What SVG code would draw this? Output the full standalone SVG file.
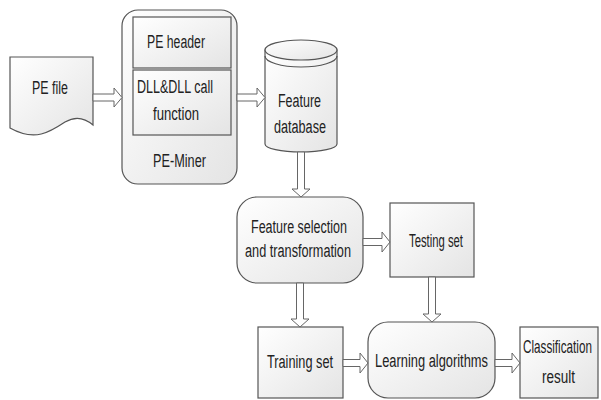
<svg xmlns="http://www.w3.org/2000/svg" width="601" height="400" viewBox="0 0 601 400">
<defs>
<linearGradient id="g" x1="0" y1="0" x2="1" y2="1">
<stop offset="0" stop-color="#ffffff"/>
<stop offset="1" stop-color="#e4e4e4"/>
</linearGradient>
<style>
.s{fill:url(#g);stroke:#555;stroke-width:1.2}
.a{fill:#fff;stroke:#666;stroke-width:1}
text{font-family:"Liberation Sans",Arial,sans-serif;font-size:18px;fill:#222}
</style>
</defs>
<rect width="601" height="400" fill="#fff"/>
<g id="pe-file">
<path class="s" d="M10,57 H93 V125 C85,118 75,116 65,122 C50,132 35,142 10,128 Z"/>
<text x="32" y="94" textLength="36" lengthAdjust="spacingAndGlyphs">PE file</text>
</g>
<g id="pe-miner">
<rect class="s" x="122" y="10" width="115" height="174" rx="16"/>
<rect class="s" x="133" y="17" width="98" height="51"/>
<rect class="s" x="133" y="70" width="98" height="65"/>
<text x="147" y="48" textLength="58" lengthAdjust="spacingAndGlyphs">PE header</text>
<text x="137" y="93" textLength="76" lengthAdjust="spacingAndGlyphs">DLL&amp;DLL call</text>
<text x="153" y="120" textLength="46" lengthAdjust="spacingAndGlyphs">function</text>
<text x="153" y="167" textLength="53" lengthAdjust="spacingAndGlyphs">PE-Miner</text>
</g>
<g id="feature-db">
<path class="s" d="M265,50 V144 A36,8 0 0 0 337,144 V50 Z"/>
<ellipse class="s" cx="301" cy="50" rx="36" ry="10"/>
<path fill="none" stroke="#555" stroke-width="1.2" d="M265,56 A36,11 0 0 0 337,56"/>
<text x="278" y="107" textLength="43" lengthAdjust="spacingAndGlyphs">Feature</text>
<text x="274" y="133" textLength="52" lengthAdjust="spacingAndGlyphs">database</text>
</g>
<g id="feature-selection">
<rect class="s" x="237" y="197" width="126" height="86" rx="20"/>
<text x="251" y="233" textLength="96" lengthAdjust="spacingAndGlyphs">Feature selection</text>
<text x="245" y="257" textLength="106" lengthAdjust="spacingAndGlyphs">and transformation</text>
</g>
<g id="testing-set">
<rect class="s" x="390" y="203" width="84" height="74"/>
<text x="409" y="247" textLength="54" lengthAdjust="spacingAndGlyphs">Testing set</text>
</g>
<g id="training-set">
<rect class="s" x="258" y="327" width="85" height="71"/>
<text x="267" y="368" textLength="66" lengthAdjust="spacingAndGlyphs">Training set</text>
</g>
<g id="learning">
<rect class="s" x="368" y="322" width="127" height="76" rx="20"/>
<text x="375" y="367" textLength="113" lengthAdjust="spacingAndGlyphs">Learning algorithms</text>
</g>
<g id="classification">
<rect class="s" x="520" y="327" width="78" height="71"/>
<text transform="translate(523,353) scale(0.65,1)" x="0" y="0">Classification</text>
<text x="542" y="383" textLength="33" lengthAdjust="spacingAndGlyphs">result</text>
</g>
<g id="connectors">
<polygon class="a" points="93,94 114,94 114,88 122,97.5 114,107 114,101 93,101"/>
<polygon class="a" points="237,94 257,94 257,88 265,97.5 257,107 257,101 237,101"/>
<polygon class="a" points="297.5,152 304.5,152 304.5,189 310,189 301,197 292,189 297.5,189"/>
<polygon class="a" points="363,238.5 382,238.5 382,232 390,242 382,252 382,245.5 363,245.5"/>
<polygon class="a" points="296.5,283 303.5,283 303.5,319 309,319 300,327 291,319 296.5,319"/>
<polygon class="a" points="428.5,277 435.5,277 435.5,314 441,314 432,322 423,314 428.5,314"/>
<polygon class="a" points="343,359.5 360,359.5 360,353 368,363 360,373 360,366.5 343,366.5"/>
<polygon class="a" points="495,359.5 512,359.5 512,353 520,363 512,373 512,366.5 495,366.5"/>
</g>
</svg>
